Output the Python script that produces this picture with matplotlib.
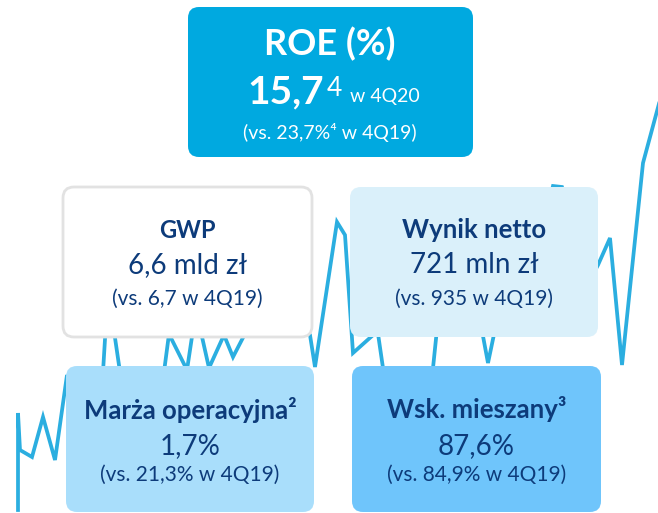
import matplotlib
matplotlib.use('Agg')
import matplotlib.pyplot as plt
from matplotlib.patches import FancyBboxPatch

plt.rcParams['font.family'] = ['Lato', 'DejaVu Sans']

# Background trend line (pixel-like units, y measured from the top of the slide)
line_x = [18, 18, 20, 32, 43, 55, 67, 85, 103, 108, 120, 140, 164, 169, 187, 196,
          209, 224, 233, 248, 270, 290, 310, 315, 337, 345, 353, 372, 376, 383,
          405, 433, 440, 480, 488, 497, 530, 553, 562, 590, 598, 610, 622, 643, 660]
line_y = [510, 413, 450, 457, 417, 460, 375, 430, 372, 290, 372, 420, 372, 334, 370, 310,
          368, 335, 357, 328, 260, 300, 335, 367, 222, 235, 353, 336, 320, 368,
          420, 368, 300, 320, 363, 320, 280, 186, 187, 280, 265, 238, 365, 163, 100]

# KPI tiles
kpi_titles = ['GWP', 'Wynik netto', 'Marża operacyjna²', 'Wsk. mieszany³']
kpi_values = ['6,6 mld zł', '721 mln zł', '1,7%', '87,6%']
kpi_prev = ['(vs. 6,7 w 4Q19)', '(vs. 935 w 4Q19)', '(vs. 21,3% w 4Q19)', '(vs. 84,9% w 4Q19)']

roe_title = 'ROE (%)'
roe_value = '15,7'
roe_note = '4'
roe_period = 'w 4Q20'
roe_prev = '(vs. 23,7%⁴ w 4Q19)'

NAVY = '#0D3B7A'
W, H = 658, 513

fig = plt.figure(figsize=(W / 100, H / 100), dpi=100)
ax = fig.add_axes([0, 0, 1, 1])
ax.set_xlim(0, W)
ax.set_ylim(H, 0)
ax.axis('off')

ax.plot(line_x, line_y, color='#2BAEE0', lw=2.7, solid_joinstyle='miter', zorder=1)


def tile(x, y, w, h, fc, ec='none', lw=0):
    box = FancyBboxPatch((x, y), w, h, boxstyle='round,pad=0,rounding_size=11',
                         fc=fc, ec=ec, lw=lw, zorder=2)
    ax.add_patch(box)


# ROE tile
tile(188, 7, 285, 150, '#00A9E0')
ax.text(330, 55, roe_title, color='white', fontsize=26, fontweight='bold',
        ha='center', va='baseline', zorder=3)
ax.text(247, 103, roe_value, color='white', fontsize=28, fontweight='bold',
        ha='left', va='baseline', zorder=3)
ax.text(327, 96, roe_note, color='white', fontsize=19, ha='left', va='baseline', zorder=3)
ax.text(350, 102, roe_period, color='white', fontsize=14, ha='left', va='baseline', zorder=3)
ax.text(330, 139, roe_prev, color='white', fontsize=14, ha='center', va='baseline', zorder=3)

# KPI tiles: (left, top, width, height, fill, edge)
tiles = [
    (63, 187, 249, 150, 'white', '#E2E2E2'),
    (350, 187, 248, 150, '#DAF0FA', 'none'),
    (66, 366, 248, 146, '#A9DEFB', 'none'),
    (352, 366, 249, 146, '#6FC5FB', 'none'),
]
baselines = [(238, 273, 305), (238, 273, 305), (419, 454, 481), (418, 454, 481)]
title_sizes = [17, 18.5, 18.5, 18.5]

for i, (x, y, w, h, fc, ec) in enumerate(tiles):
    tile(x, y, w, h, fc, ec, 2 if ec != 'none' else 0)
    cx = x + w / 2
    b1, b2, b3 = baselines[i]
    ax.text(cx, b1, kpi_titles[i], color=NAVY, fontsize=title_sizes[i], fontweight='bold',
            ha='center', va='baseline', zorder=3)
    ax.text(cx, b2, kpi_values[i], color=NAVY, fontsize=20,
            ha='center', va='baseline', zorder=3)
    ax.text(cx, b3, kpi_prev[i], color=NAVY, fontsize=15,
            ha='center', va='baseline', zorder=3)

fig.savefig('out.png', dpi=100)
